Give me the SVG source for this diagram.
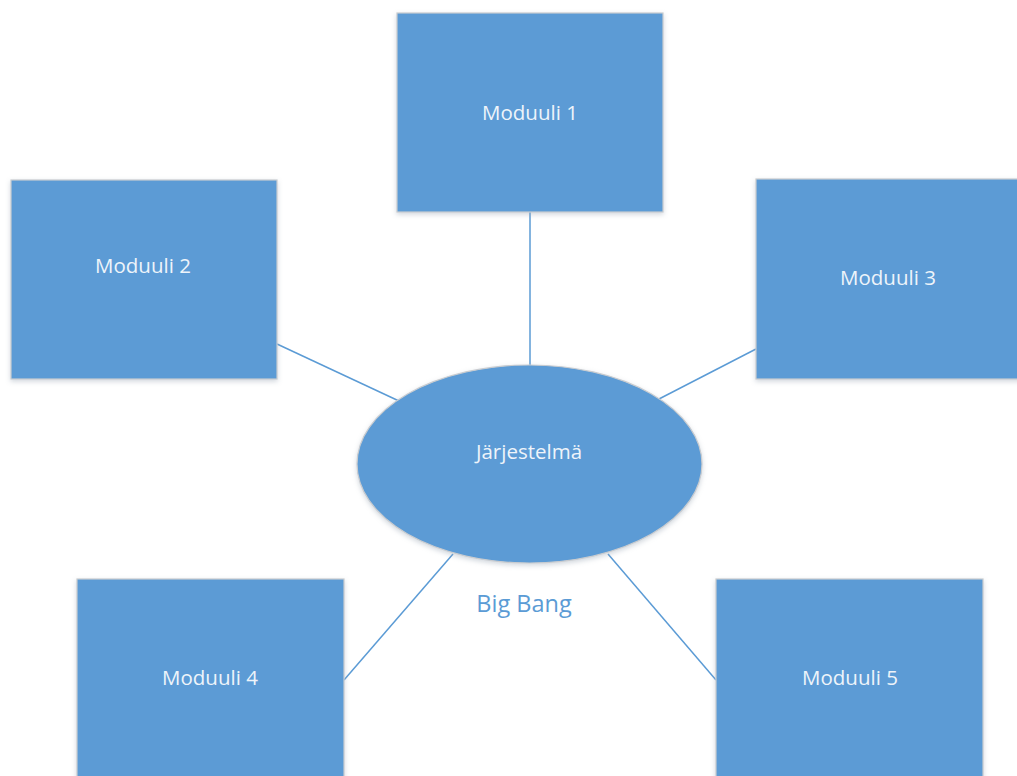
<svg xmlns="http://www.w3.org/2000/svg" width="1017" height="776" viewBox="0 0 1017 776">
  <defs>
    <filter id="soft" x="-10%" y="-10%" width="120%" height="125%">
      <feGaussianBlur in="SourceAlpha" stdDeviation="2.5"/>
      <feOffset dx="0" dy="2" result="b"/>
      <feFlood flood-color="#9aa7b5" flood-opacity="0.45"/>
      <feComposite in2="b" operator="in"/>
      <feMerge><feMergeNode/><feMergeNode in="SourceGraphic"/></feMerge>
    </filter>
  </defs>
  <style>
    .box { fill: #5b9bd5; stroke: #c9ccd0; stroke-width: 1.2; filter: url(#soft); }
    .lbl { fill: #eef4fa; font-family: "Open Sans", "Noto Sans", sans-serif; font-size: 20.5px; text-anchor: middle; dominant-baseline: central; }
    .link { stroke: #5b9bd5; stroke-width: 1.5; fill: none; }
    .cap { fill: #5b9bd5; font-family: "Open Sans", "Noto Sans", sans-serif; font-size: 23.5px; text-anchor: middle; dominant-baseline: central; }
  </style>
  <rect width="1017" height="776" fill="#ffffff"/>

  <!-- connectors from the system to each module -->
  <g id="connectors">
    <line class="link" x1="530" y1="212" x2="530" y2="366"/>
    <line class="link" x1="277" y1="344" x2="399" y2="401"/>
    <line class="link" x1="756" y1="349" x2="659" y2="399"/>
    <line class="link" x1="344" y1="680" x2="453" y2="554"/>
    <line class="link" x1="716" y1="680" x2="608" y2="554"/>
  </g>

  <g id="moduuli1">
    <rect class="box" x="397" y="13" width="266" height="199"/>
    <text class="lbl" x="530" y="112">Moduuli 1</text>
  </g>
  <g id="moduuli2">
    <rect class="box" x="11" y="180" width="266" height="199"/>
    <text class="lbl" x="143" y="265">Moduuli 2</text>
  </g>
  <g id="moduuli3">
    <rect class="box" x="756" y="179" width="270" height="200"/>
    <text class="lbl" x="888" y="277">Moduuli 3</text>
  </g>
  <g id="moduuli4">
    <rect class="box" x="77" y="579" width="267" height="210"/>
    <text class="lbl" x="210" y="677">Moduuli 4</text>
  </g>
  <g id="moduuli5">
    <rect class="box" x="716" y="579" width="267" height="210"/>
    <text class="lbl" x="850" y="677">Moduuli 5</text>
  </g>

  <g id="jarjestelma">
    <ellipse class="box" cx="529.5" cy="464" rx="172.5" ry="99"/>
    <text class="lbl" x="529" y="451">Järjestelmä</text>
  </g>

  <g id="caption">
    <text class="cap" x="524" y="603">Big Bang</text>
  </g>
</svg>
